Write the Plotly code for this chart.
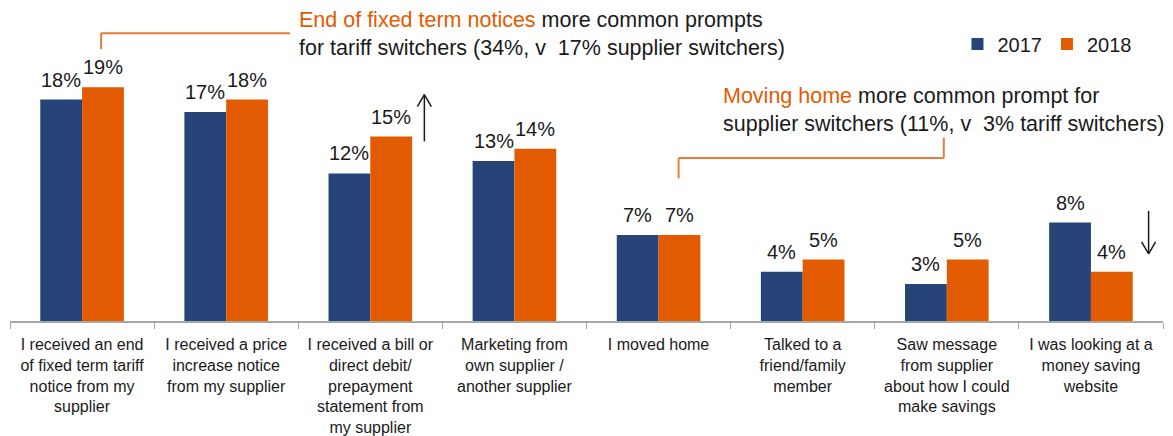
import plotly.graph_objects as go

categories = [
    "I received an end<br>of fixed term tariff<br>notice from my<br>supplier",
    "I received a price<br>increase notice<br>from my supplier",
    "I received a bill or<br>direct debit/<br>prepayment<br>statement from<br>my supplier",
    "Marketing from<br>own supplier /<br>another supplier",
    "I moved home",
    "Talked to a<br>friend/family<br>member",
    "Saw message<br>from supplier<br>about how I could<br>make savings",
    "I was looking at a<br>money saving<br>website",
]
series_names = ["2017", "2018"]
values_2017 = [18, 17, 12, 13, 7, 4, 3, 8]
values_2018 = [19, 18, 15, 14, 7, 5, 5, 4]

BLUE = "#264478"
ORANGE = "#E35B00"
LINE_ORANGE = "#EA7A3C"
TEXT = "#1a1a1a"
FONT = "Liberation Sans, Arial, sans-serif"

PX_X = 1153 / 8.0      # pixels per category unit
PX_Y = 12.3            # pixels per percentage point
PLOT_H = 313
BARGAP = 0.42
BAR_PX = (1 - BARGAP) * PX_X / 2   # width of one bar in pixels

fig = go.Figure()
annotations = []
for i, (name, vals, col) in enumerate(zip(series_names, [values_2017, values_2018], [BLUE, ORANGE])):
    fig.add_trace(go.Bar(
        x=categories, y=vals, name=name, marker_color=col, marker_line_width=0,
    ))
    shift = (i - 0.5) * BAR_PX
    for c, v in zip(categories, vals):
        annotations.append(dict(
            xref="x", yref="y", x=c, y=v, xshift=shift, yshift=7,
            xanchor="center", yanchor="bottom", showarrow=False, text=f"{v}%",
            font=dict(size=20, color=TEXT, family=FONT)))

shapes = []
def line(x0, y0, x1, y1, color=LINE_ORANGE, w=2):
    shapes.append(dict(type="line", xref="x", yref="y", x0=x0, y0=y0, x1=x1, y1=y1,
                       line=dict(color=color, width=w)))

# bracket 1 (end of fixed term)
line(0.132, 22.1, 0.132, 23.4)
line(0.132, 23.4, 1.444, 23.4)
# bracket 2 (moving home)
line(4.139, 11.6, 4.139, 13.25)
line(4.139, 13.25, 5.979, 13.25)
line(5.979, 13.25, 5.979, 14.9)

def arrow(x, y_tail, y_tip):
    line(x, y_tail, x, y_tip, color=TEXT, w=1.5)
    dx = 7 / PX_X
    dy = (12 / PX_Y) * (1 if y_tip < y_tail else -1)
    line(x - dx, y_tip + dy, x, y_tip, color=TEXT, w=1.5)
    line(x + dx, y_tip + dy, x, y_tip, color=TEXT, w=1.5)

arrow(2.375, 14.6, 18.4)
arrow(7.40, 8.95, 5.45)

annotations += [
    dict(xref="x", yref="y", x=1.493, y=23.37, xanchor="left", yanchor="middle",
         align="left", showarrow=False, font=dict(size=21.5, color=TEXT, family=FONT),
         text=f'<span style="color:{ORANGE}">End of fixed term notices</span> more common prompts'
              '<br>for tariff switchers (34%, v\u00a0\u00a017% supplier switchers)'),
    dict(xref="x", yref="y", x=4.431, y=17.15, xanchor="left", yanchor="middle",
         align="left", showarrow=False, font=dict(size=21.5, color=TEXT, family=FONT),
         text=f'<span style="color:{ORANGE}">Moving home</span> more common prompt for'
              '<br>supplier switchers (11%, v\u00a0\u00a03% tariff switchers)'),
]

fig.update_layout(
    width=1165, height=428,
    margin=dict(l=2, r=10, t=0, b=115, autoexpand=False),
    paper_bgcolor="white", plot_bgcolor="white",
    barmode="group", bargap=BARGAP, bargroupgap=0,
    font=dict(family=FONT, color=TEXT),
    shapes=shapes, annotations=annotations,
    legend=dict(orientation="h", x=0.977, xanchor="right", y=1 - 36 / PLOT_H, yanchor="middle",
                font=dict(size=20, color=TEXT, family=FONT), itemwidth=30,
                bgcolor="rgba(0,0,0,0)"),
    xaxis=dict(range=[-0.5, 7.5], showline=True, linecolor="#A6A6A6", linewidth=1.5,
               ticks="outside", tickson="boundaries", ticklen=6, tickcolor="#A6A6A6",
               tickangle=0, automargin=False, ticklabelstandoff=8,
               tickfont=dict(size=16, color=TEXT, family=FONT), showgrid=False),
    yaxis=dict(range=[0, PLOT_H / PX_Y], visible=False, showgrid=False, automargin=False),
)

fig.write_html("out.html")
